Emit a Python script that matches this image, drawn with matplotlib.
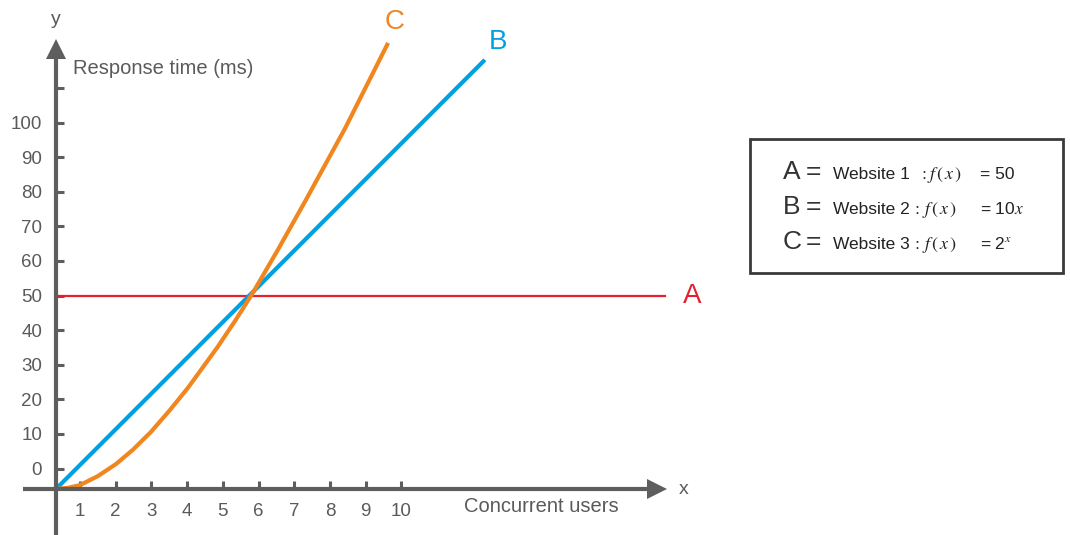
import matplotlib
matplotlib.use('Agg')
import matplotlib.pyplot as plt
from matplotlib.patches import Rectangle

plt.rcParams['font.family'] = ['Liberation Sans', 'DejaVu Sans']

# data
x_ticks = list(range(1, 11))
y_ticks = list(range(0, 120, 10))
y_tick_labels = [str(v) for v in range(0, 110, 10)] + ['']

a_value = 50
b_x = [0.33, 12.34]
b_y = [-5.9, 118.1]
c_x = [0.33, 0.66, 1.0, 1.5, 2.01, 2.48, 2.99, 3.52, 4.03, 4.86, 5.34, 5.82, 6.52, 7.3, 8.42, 9.63]
c_y = [-5.9, -5.6, -4.8, -2.2, 1.3, 5.4, 10.6, 16.9, 23.4, 35.2, 42.6, 50.4, 62.8, 77.1, 98.2, 123.0]

legend_letters = ['A', 'B', 'C']
legend_sites = ['Website 1', 'Website 2', 'Website 3']
legend_rhs = ['= 50', r'= 10$x$', r'= 2$^{x}$']

# pixel calibration of the drawing
W, H = 1070, 535
PX0, PXU = 44.3, 35.7
PY0, PYU = 468.5, 3.46


def dx(px):
    return (px - PX0) / PXU


def dy(py):
    return (PY0 - py) / PYU


def ptxt(px, py, s, **kw):
    return fig.text(px / W, 1 - py / H, s, **kw)


grey = '#5e5e5e'
lbl = '#5a5a5a'
red = '#e6202e'
blue = '#00a0e3'
orange = '#f1861f'

fig = plt.figure(figsize=(10.7, 5.35), dpi=100)
ax = fig.add_axes([0, 0, 1, 1])
ax.set_xlim(dx(0), dx(W))
ax.set_ylim(dy(H), dy(0))

ox, oy = dx(56), dy(489)
ax.spines['top'].set_visible(False)
ax.spines['right'].set_visible(False)
ax.spines['left'].set_position(('data', ox))
ax.spines['bottom'].set_position(('data', oy))
ax.spines['left'].set_bounds(dy(H), dy(55))
ax.spines['bottom'].set_bounds(dx(23), dx(650))
for s in ['left', 'bottom']:
    ax.spines[s].set_linewidth(3)
    ax.spines[s].set_color(grey)
    ax.spines[s].set_capstyle('butt')

ax.set_xticks(x_ticks)
ax.set_yticks(y_ticks, y_tick_labels)
ax.tick_params(direction='in', length=5.5, width=2.2, color=grey,
               labelcolor=lbl, labelsize=13.5, pad=10)

# arrow heads
ax.plot([ox], [dy(49)], marker='^', ms=14, mew=0, color=grey, clip_on=False)
ax.plot([dx(656.5)], [oy], marker='>', ms=14, mew=0, color=grey, clip_on=False)

# curves
ax.plot([ox, dx(665)], [a_value, a_value], color=red, lw=1.6)
ax.plot(b_x, b_y, color=blue, lw=3, solid_capstyle='butt')
ax.plot(c_x, c_y, color=orange, lw=3, solid_capstyle='butt', solid_joinstyle='round')

ax.text(dx(395), dy(22), 'C', color=orange, fontsize=20, ha='center', va='center')
ax.text(dx(498), dy(42), 'B', color=blue, fontsize=20, ha='center', va='center')
ax.text(dx(692), dy(296), 'A', color=red, fontsize=20, ha='center', va='center')

ax.text(dx(73), dy(68), 'Response time (ms)', fontsize=14.5, color=lbl, va='center')
ax.text(dx(541), dy(507), 'Concurrent users', fontsize=14.5, color=lbl, ha='center', va='center')
ax.text(ox, dy(20), 'y', fontsize=14, color=lbl, ha='center', va='center')
ax.text(dx(684), dy(490), 'x', fontsize=14, color=lbl, ha='center', va='center')

# legend box
fig.patches.append(Rectangle((750 / W, 1 - 273 / H), (1063 - 750) / W, (273 - 139) / H,
                             transform=fig.transFigure, fill=False, ec='#3a3a3a', lw=2))
baselines = [179, 214, 249]
fx = [919, 912, 912]
fmath = [r'$:f\,(\,x\,)$', r'$:\,f\,(\,x\,)$', r'$:\,f\,(\,x\,)$']
for i in range(3):
    b = baselines[i]
    ptxt(783, b, legend_letters[i], fontsize=19, color='#333333', va='baseline')
    ptxt(806, b, '=', fontsize=19, color='#333333', va='baseline')
    ptxt(833, b, legend_sites[i], fontsize=12.5, color='#222222', va='baseline')
    ptxt(fx[i], b, fmath[i], fontsize=13, color='#222222', va='baseline', math_fontfamily='stix')
    ptxt(980, b, legend_rhs[i], fontsize=12.5, color='#222222', va='baseline',
         math_fontfamily='stix')

fig.savefig('out.png', dpi=100)
